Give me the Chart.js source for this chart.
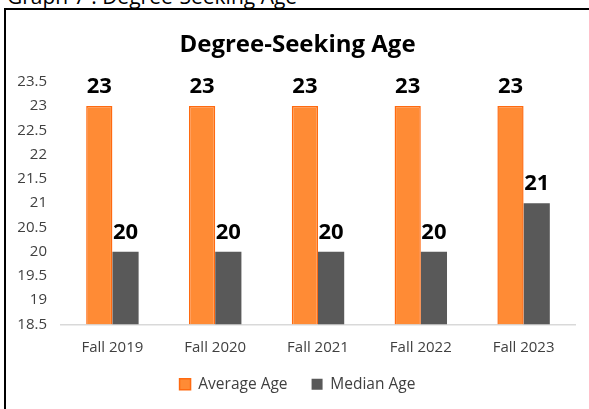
<!DOCTYPE html>
<html>
<head>
<meta charset="utf-8">
<script src="https://cdn.jsdelivr.net/npm/chart.js@4.4.0/dist/chart.umd.min.js"></script>
<style>
  html, body { margin: 0; padding: 0; background: #fff; overflow: hidden; }
  body { width: 589px; height: 409px; position: relative; font-family: "Open Sans", sans-serif; }
  #caption { position: absolute; left: 7px; top: -18px; font-size: 21px; color: #000; white-space: nowrap; }
  #frame { position: absolute; left: 4px; top: 8px; width: 600px; height: 420px;
           border-top: 2px solid #000; border-left: 2px solid #000; }
  #wrap { position: absolute; left: 6px; top: 10px; width: 583px; height: 399px; }
</style>
</head>
<body>
<div id="caption">Graph 7 : Degree-Seeking Age</div>
<div id="frame"></div>
<div id="wrap"><canvas id="grafico"></canvas></div>
<script>
const terms     = ['Fall 2019','Fall 2020','Fall 2021','Fall 2022','Fall 2023'];
const avgAge    = [23, 23, 23, 23, 23];
const medianAge = [20, 20, 20, 20, 21];
const yTicks    = [18.5, 19, 19.5, 20, 20.5, 21, 21.5, 22, 22.5, 23, 23.5];

const fuente = '"Open Sans", sans-serif';

// numbers above the bars
const etiquetas = {
  id: 'etiquetas',
  afterDatasetsDraw(chart){
    const c = chart.ctx;
    c.save();
    c.font = 'bold 22px ' + fuente;
    c.fillStyle = '#000';
    c.textAlign = 'center';
    c.textBaseline = 'bottom';
    chart.data.datasets.forEach((ds, i) => {
      chart.getDatasetMeta(i).data.forEach((bar, j) => {
        c.fillText(ds.data[j], bar.x, bar.y - 8);
      });
    });
    c.restore();
  }
};

const ctx = document.getElementById('grafico');
new Chart(ctx, {
  type: 'bar',
  data: {
    labels: terms,
    datasets: [
      { label: 'Average Age', data: avgAge, backgroundColor: '#FF8B35',
        borderColor: '#FF6A10', borderWidth: 1.5 },
      { label: 'Median Age', data: medianAge, backgroundColor: '#595959',
        borderWidth: 0 }
    ]
  },
  options: {
    responsive: true,
    maintainAspectRatio: false,
    animation: false,
    layout: { padding: { right: 0, left: 0, bottom: 7 } },
    datasets: { bar: { barPercentage: 1, categoryPercentage: 0.51, base: 18.5 } },
    plugins: {
      title: { display: true, text: 'Degree-Seeking Age', color: '#000',
               font: { family: fuente, size: 24, weight: 'bold' },
               padding: { top: 21, bottom: 22 } },
      legend: { position: 'bottom',
                labels: { color: '#404040', boxWidth: 11, boxHeight: 11, padding: 24,
                          font: { family: fuente, size: 15.5 } } },
      tooltip: { enabled: false }
    },
    scales: {
      x: {
        afterFit: ax => { ax.height = 28; },
        grid: { display: false, drawTicks: false },
        border: { color: '#D9D9D9', width: 1.5 },
        ticks: { color: '#404040', padding: 14, font: { family: fuente, size: 15 } }
      },
      y: {
        min: 18.5, max: 23.5,
        afterBuildTicks: ax => { ax.ticks = yTicks.map(v => ({ value: v })); },
        afterFit: ax => { ax.width = 55; },
        grid: { display: false, drawTicks: false },
        border: { display: false },
        ticks: { color: '#404040', padding: 14, font: { family: fuente, size: 15 },
                 callback: v => String(v) }
      },
      // empty right axis, only keeps space on the right side
      derecha: {
        position: 'right',
        afterFit: ax => { ax.width = 14; },
        grid: { display: false, drawTicks: false },
        border: { display: false },
        ticks: { display: false }
      }
    }
  },
  plugins: [etiquetas]
});
</script>
</body>
</html>
